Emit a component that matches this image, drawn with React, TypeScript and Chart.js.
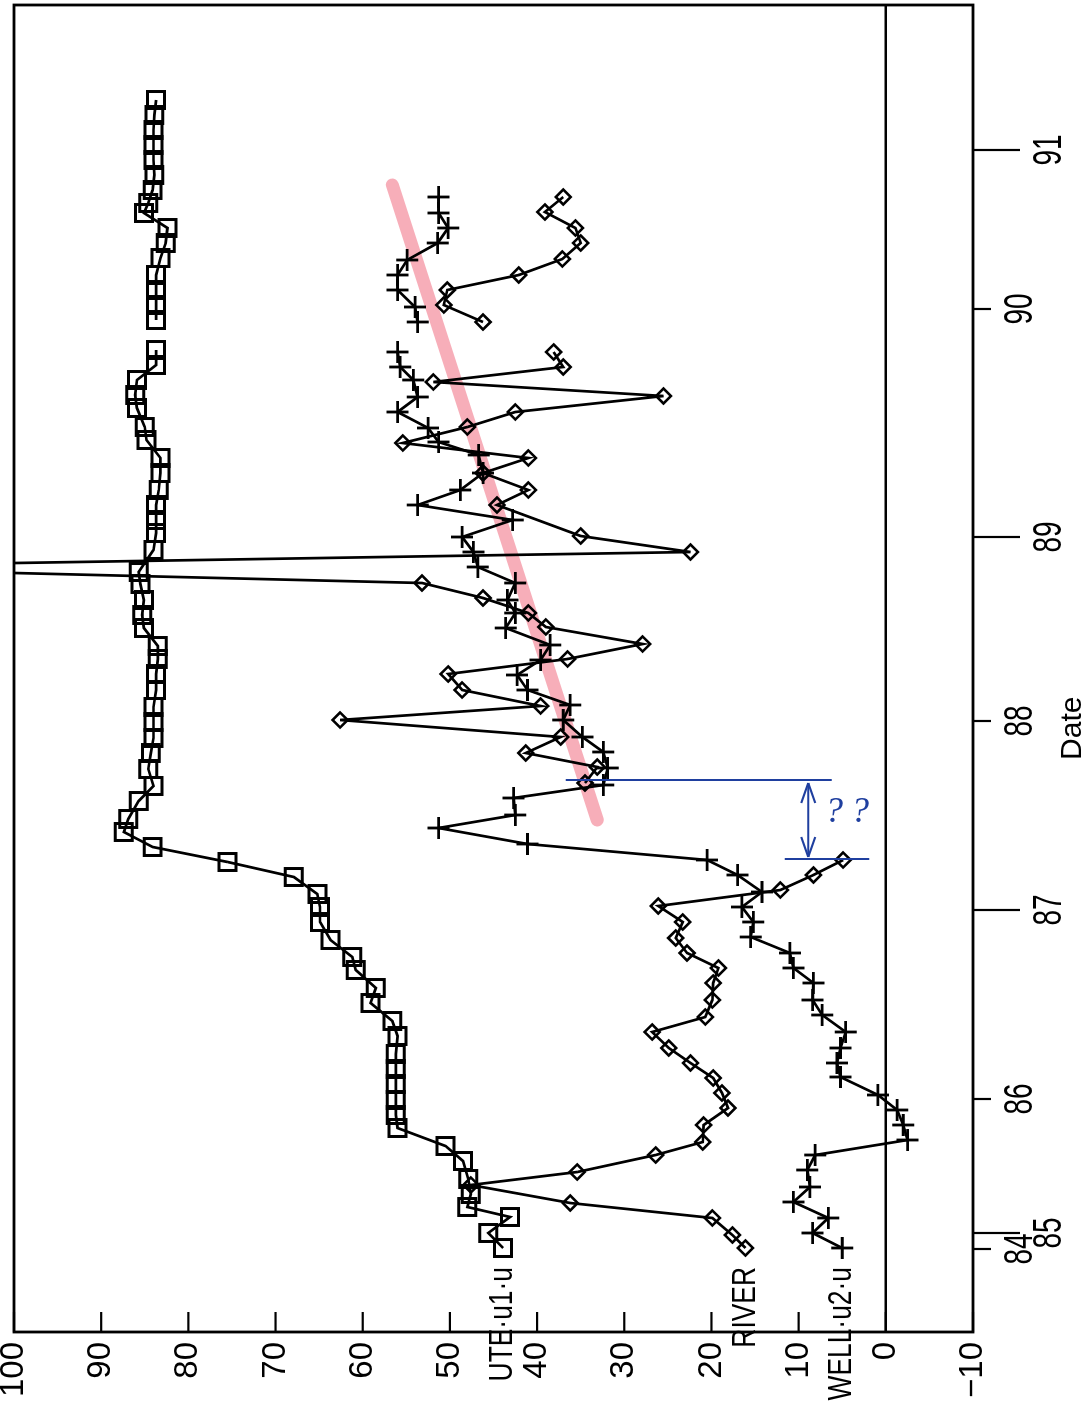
import React, { useEffect, useRef } from 'react';
import { Chart, registerables } from 'chart.js';

Chart.register(...registerables);

const FONT = "'Liberation Sans', Arial, sans-serif";

// Date axis: sample position (t) of each year tick, labels, long/short tick
const dateTickPos = [8.3, 9.9, 23.3, 42.2, 61.1, 79.5, 102.3, 118.2];
const dateTickLabels = ['84', '85', '86', '87', '88', '89', '90', '91'];
const dateTickMajor = [false, true, false, true, false, true, false, true];
const valueTicks = [100, 90, 80, 70, 60, 50, 40, 30, 20, 10, 0, -10];
const dateTitle = 'Date';

// Series UTE·u1·u (squares)
const uteT = [8.4, 9.9, 11.5, 12.5, 13.8, 15.3, 17.1, 18.6, 20.4, 21.7, 23.2, 24.8, 26.3, 27.8, 29.6, 31.1, 32.9, 34.4, 36.2, 37.5, 39.2, 41.0, 42.5, 43.8, 45.5, 47.0, 48.5, 50.0, 51.3, 53.1, 54.6, 56.3, 57.9, 59.4, 61.0, 62.5, 64.2, 65.8, 67.3, 68.6, 70.4, 71.7, 73.2, 74.8, 76.0, 78.2, 79.9, 81.2, 82.7, 84.2, 85.9, 87.4, 89.2, 90.5, 92.4, 93.7, 95.2, 96.7, 98.2, 99.7, 101.2, 102.7, 104.2, 105.7, 107.4, 108.9, 110.4, 111.9, 112.9, 114.2, 115.7, 117.2, 118.7, 120.2, 121.7, 123.2];
const uteV = [43.9, 45.6, 43.1, 48.0, 47.6, 47.9, 48.5, 50.5, 56.0, 56.2, 56.2, 56.2, 56.2, 56.2, 56.0, 56.6, 59.1, 58.5, 60.8, 61.2, 63.7, 64.9, 64.9, 65.2, 67.9, 75.5, 84.1, 87.4, 86.9, 85.7, 84.0, 84.6, 84.3, 84.0, 84.0, 84.0, 83.7, 83.7, 83.5, 83.5, 85.1, 85.3, 85.1, 85.5, 85.7, 84.0, 83.7, 83.7, 83.7, 83.4, 83.2, 83.2, 84.8, 85.0, 85.9, 86.1, 85.9, 83.7, 83.7, null, 83.7, 83.7, 83.7, 83.7, 83.2, 82.6, 82.4, 85.1, 84.6, 84.1, 83.9, 84.0, 84.0, 84.0, 83.9, 83.7];

// Series RIVER (diamonds)
const riverT = [8.4, 9.7, 11.4, 12.9, 14.7, 16.0, 17.7, 19.0, 20.7, 22.4, 23.9, 25.4, 26.9, 28.4, 30.0, 31.5, 33.2, 34.9, 36.4, 37.9, 39.4, 41.0, 42.6, 44.2, 45.7, 47.2, 51.0, 54.9, 56.5, 57.9, 59.5, 61.2, 62.6, 64.2, 65.8, 67.3, 68.8, 70.5, 71.9, 73.4, 74.9, 76.5, 78.0, 79.6, 82.7, 84.2, 85.9, 87.4, 88.9, 90.5, 92.0, 93.6, 95.0, 96.5, 98.0, 99.5, 101.0, 102.7, 104.2, 105.7, 107.3, 108.9, 110.4, 112.0, 113.5];
const riverV = [16.1, 17.6, 19.9, 36.2, 47.6, 35.4, 26.4, 21.0, 20.9, 18.1, 18.8, 19.8, 22.4, 24.9, 26.8, 20.7, 19.9, 19.8, 19.2, 22.8, 24.1, 23.3, 26.1, 12.1, 8.3, 4.9, null, 34.5, 33.1, 41.3, 37.3, 62.6, 39.6, 48.6, 50.2, 36.5, 27.9, 39.0, 41.0, 46.2, 53.2, 128, 22.4, 35.0, 44.6, 41.0, 46.2, 41.0, 55.4, 48.0, 42.5, 25.5, 51.9, 37.0, 38.1, null, 46.2, 50.7, 50.3, 42.1, 37.1, 35.0, 35.6, 39.1, 37.0];

// Series WELL·u2·u (crosses)
const wellT = [8.4, 9.9, 11.4, 13.0, 14.5, 16.2, 17.7, 19.2, 20.7, 22.2, 23.7, 25.5, 26.9, 28.4, 30.0, 31.7, 33.2, 34.9, 36.4, 37.9, 39.5, 41.0, 42.5, 44.0, 45.7, 47.2, 48.8, 50.4, 51.7, 53.4, 54.7, 56.4, 58.0, 59.5, 61.2, 62.7, 64.2, 65.7, 67.2, 68.7, 70.4, 71.9, 73.2, 74.9, 76.5, 78.0, 79.5, 81.2, 82.7, 84.2, 85.9, 87.7, 89.0, 90.4, 92.0, 93.5, 95.2, 96.5, 98.0, 99.5, 101.0, 102.5, 104.2, 105.7, 107.2, 108.9, 110.4, 111.9, 113.5];
const wellV = [5.0, 8.4, 6.6, 10.6, 8.7, 9.0, 8.1, -2.5, -2.0, -1.3, 0.9, 5.2, 5.6, 5.2, 4.6, 7.3, 8.4, 8.3, 10.6, 11.0, 15.5, 15.2, 16.5, 14.2, 17.0, 20.5, 41.1, 51.3, 42.5, 42.7, 32.4, 31.9, 32.4, 34.8, 37.0, 36.2, 41.1, 42.3, 39.6, 38.5, 43.6, 42.5, 43.4, 42.5, 46.8, 47.3, 48.6, 42.8, 53.7, 48.8, 46.2, 46.7, 51.3, 52.5, 56.0, 53.7, 54.2, 55.7, 56.0, null, 53.7, 54.0, 56.0, 56.0, 54.9, 51.4, 50.2, 51.3, 51.3];

const seriesLabels = ['UTE·u1·u', 'RIVER', 'WELL·u2·u'];

// Hand annotations: pink highlighter trend and blue "??" marks
const highlightT = [114.7, 51.2];
const highlightV = [56.6, 33.1];
const annoTopT = 55.2;
const annoTopV = [36.7, 6.2];
const annoBottomT = 47.3;
const annoBottomV = [11.6, 1.9];
const annoArrowV = 8.9;
const annoArrowT = [54.9, 47.5];
const annoText = '??';
const annoTextT = 51.9;
const annoTextV = 4.0;

const toXY = (T: number[], V: (number | null)[]) => T.map((t, i) => ({ x: t, y: V[i] }));

function drawText(ctx: CanvasRenderingContext2D, text: string, x: number, y: number, font: string, sx: number, align: CanvasTextAlign, baseline: CanvasTextBaseline) {
  ctx.save();
  ctx.translate(x, y);
  ctx.scale(sx, 1);
  ctx.font = font;
  ctx.textAlign = align;
  ctx.textBaseline = baseline;
  ctx.fillStyle = '#000';
  ctx.fillText(text, 0, 0);
  ctx.restore();
}

const underlay = {
  id: 'underlay',
  beforeDatasetsDraw(chart: any) {
    const { ctx, chartArea: a, scales } = chart;
    const y0 = scales.y.getPixelForValue(0);
    ctx.save();
    ctx.strokeStyle = '#000';
    ctx.lineWidth = 2.5;
    ctx.beginPath();
    ctx.moveTo(a.left, y0);
    ctx.lineTo(a.right, y0);
    ctx.stroke();
    ctx.restore();
  },
};

const overlay = {
  id: 'overlay',
  afterDatasetsDraw(chart: any) {
    const { ctx, chartArea: a, scales } = chart;
    const xs = scales.x;
    const ys = scales.y;
    ctx.save();
    ctx.strokeStyle = '#000';
    ctx.lineWidth = 2.8;
    ctx.strokeRect(a.left, a.top, a.right - a.left, a.bottom - a.top);
    ctx.lineWidth = 2.2;
    valueTicks.forEach((v) => {
      const py = ys.getPixelForValue(v);
      ctx.beginPath();
      ctx.moveTo(a.left, py);
      ctx.lineTo(a.left + 20, py);
      ctx.stroke();
    });
    dateTickPos.forEach((t, i) => {
      const px = xs.getPixelForValue(t);
      const len = dateTickMajor[i] ? 47 : 18;
      ctx.beginPath();
      ctx.moveTo(px, a.bottom);
      ctx.lineTo(px, a.bottom + len);
      ctx.stroke();
      drawText(ctx, dateTickLabels[i], px, a.bottom + len + 41, `40px ${FONT}`, 0.7, 'center', 'alphabetic');
    });
    drawText(ctx, dateTitle, a.left + 0.455 * (a.right - a.left), a.bottom + 108, `30px ${FONT}`, 1, 'center', 'alphabetic');

    // series labels at the start of each series
    const firsts = [
      [uteT[0], uteV[0]],
      [riverT[0], riverV[0]],
      [wellT[0], wellV[0]],
    ];
    firsts.forEach(([t, v], i) => {
      const px = xs.getPixelForValue(t as number) - 19;
      const py = ys.getPixelForValue(v as number);
      drawText(ctx, seriesLabels[i], px, py, `33px ${FONT}`, 0.8, 'right', 'middle');
    });

    // blue annotations
    ctx.strokeStyle = '#1f3f9f';
    ctx.fillStyle = '#1f3f9f';
    ctx.lineWidth = 2;
    const line = (x1: number, y1: number, x2: number, y2: number) => {
      ctx.beginPath();
      ctx.moveTo(x1, y1);
      ctx.lineTo(x2, y2);
      ctx.stroke();
    };
    const tx = xs.getPixelForValue(annoTopT);
    line(tx, ys.getPixelForValue(annoTopV[0]), tx, ys.getPixelForValue(annoTopV[1]));
    const bx = xs.getPixelForValue(annoBottomT);
    line(bx, ys.getPixelForValue(annoBottomV[0]), bx, ys.getPixelForValue(annoBottomV[1]));
    const ay = ys.getPixelForValue(annoArrowV);
    const ax1 = xs.getPixelForValue(annoArrowT[0]);
    const ax2 = xs.getPixelForValue(annoArrowT[1]);
    line(ax1, ay, ax2, ay);
    line(ax1, ay, ax1 - 20, ay - 7);
    line(ax1, ay, ax1 - 20, ay + 7);
    line(ax2, ay, ax2 + 20, ay - 7);
    line(ax2, ay, ax2 + 20, ay + 7);
    // "??" written upright on the rotated sheet
    ctx.save();
    ctx.translate(xs.getPixelForValue(annoTextT), ys.getPixelForValue(annoTextV));
    ctx.rotate(Math.PI / 2);
    ctx.font = "italic 36px 'Liberation Serif', serif";
    (ctx as any).letterSpacing = '8px';
    ctx.textAlign = 'center';
    ctx.textBaseline = 'middle';
    ctx.fillText(annoText, 0, 0);
    ctx.restore();
    ctx.restore();
  },
};

export default function App() {
  const ref = useRef<HTMLCanvasElement>(null);
  useEffect(() => {
    if (!ref.current) return;
    const common = {
      showLine: true,
      borderColor: '#000',
      borderWidth: 2.7,
      tension: 0,
      spanGaps: false,
      pointBorderColor: '#000',
      pointBackgroundColor: 'rgba(0,0,0,0)',
      order: 1,
    };
    const chart = new Chart(ref.current, {
      type: 'scatter',
      data: {
        datasets: [
          {
            label: 'highlight',
            data: toXY(highlightT, highlightV),
            showLine: true,
            borderColor: 'rgba(244,140,155,0.7)',
            borderWidth: 13,
            borderCapStyle: 'round',
            pointRadius: 0,
            order: 10,
          } as any,
          { ...common, label: seriesLabels[0], data: toXY(uteT, uteV), pointStyle: 'rect', pointRadius: 12, pointBorderWidth: 3 },
          { ...common, label: seriesLabels[1], data: toXY(riverT, riverV), pointStyle: 'rectRot', pointRadius: 7.5, pointBorderWidth: 2.6 },
          { ...common, label: seriesLabels[2], data: toXY(wellT, wellV), pointStyle: 'cross', pointRadius: 11, pointBorderWidth: 2.8 },
        ],
      },
      options: {
        responsive: false,
        animation: false,
        events: [],
        layout: { autoPadding: false, padding: { left: 0, top: 14, right: 5, bottom: 116 } },
        plugins: { legend: { display: false }, tooltip: { enabled: false } },
        scales: {
          x: { type: 'linear', display: false, min: 0, max: 132.7 },
          y: {
            type: 'linear',
            position: 'left',
            min: -10,
            max: 100,
            afterFit: (s: any) => {
              s.width = 80;
              s.paddingTop = 0;
              s.paddingBottom = 0;
              s.paddingLeft = 0;
              s.paddingRight = 0;
            },
            grid: { display: false, drawTicks: false },
            border: { display: false },
            ticks: {
              stepSize: 10,
              color: '#000',
              padding: 10,
              font: { family: FONT, size: 33, lineHeight: 0.7 },
              callback: (v: any) => (Number(v) < 0 ? '\u2212' + Math.abs(Number(v)) : String(v)),
            },
          },
        },
      } as any,
      plugins: [underlay, overlay],
    });
    return () => chart.destroy();
  }, []);

  return (
    <div
      style={{
        position: 'fixed',
        left: 0,
        top: 0,
        width: 1412,
        height: 1089,
        background: '#fff',
        transformOrigin: '0 0',
        transform: 'translateY(1412px) rotate(-90deg)',
      }}
    >
      <canvas ref={ref} width={1412} height={1089} style={{ display: 'block' }} />
    </div>
  );
}
